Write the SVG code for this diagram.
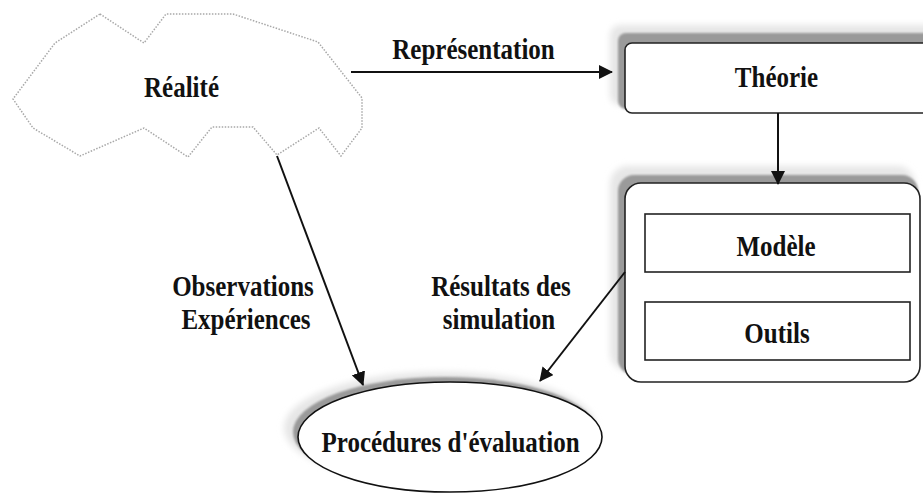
<svg xmlns="http://www.w3.org/2000/svg" width="923" height="495" viewBox="0 0 923 495">
  <style>
    .lbl { font-family: "Liberation Serif", "Times New Roman", serif; font-weight: bold; font-size: 25px; fill: #111; text-anchor: middle; }
    .box { fill: #fff; stroke: #222; stroke-width: 1.6; }
    .inner { fill: #fff; stroke: #222; stroke-width: 1.6; }
    .cloud { fill: #fff; stroke: #a8a8a8; stroke-width: 1.5; stroke-dasharray: 1.5 1.5; }
    .conn { stroke: #111; stroke-width: 2; fill: none; marker-end: url(#arrow); }
    .shadowDark { fill: #9a9a9a; filter: url(#soft); }
    .shadowLight { fill: #e6e6e6; filter: url(#glow); }
  </style>
  <defs>
    <marker id="arrow" markerUnits="userSpaceOnUse" markerWidth="14" markerHeight="14" refX="13" refY="7" orient="auto">
      <path d="M0,0 L14,7 L0,14 z" fill="#111"/>
    </marker>
    <filter id="soft" x="-10%" y="-10%" width="120%" height="120%">
      <feGaussianBlur stdDeviation="0.8"/>
    </filter>
    <filter id="glow" x="-10%" y="-10%" width="120%" height="120%">
      <feGaussianBlur stdDeviation="3"/>
    </filter>
  </defs>

  <rect width="923" height="495" fill="#fff"/>

  <!-- Réalité: dotted cloud outline -->
  <g id="realite">
    <polygon class="cloud" points="100,14 144,43 166,14 233,14 318,42 362,98 362,128 341,156 319,128 277,155 253,127 212,127 188,157 144,128 80,156 33,128 13,99 55,43"/>
    <text class="lbl" transform="translate(181.5,97) scale(1,1.2)">Réalité</text>
  </g>

  <!-- Théorie box -->
  <g id="theorie">
    <rect class="shadowLight" x="610" y="25" width="330" height="80" rx="10"/>
    <rect class="shadowDark" x="618" y="33" width="330" height="76" rx="8"/>
    <rect class="box" x="625" y="43" width="320" height="70" rx="7"/>
    <text class="lbl" transform="translate(776.5,87) scale(1,1.2)">Théorie</text>
  </g>

  <!-- Container holding Modèle and Outils -->
  <g id="modele-outils">
    <rect class="shadowLight" x="610" y="166" width="305" height="205" rx="18"/>
    <rect class="shadowDark" x="618" y="175" width="300" height="200" rx="16"/>
    <rect class="box" x="625" y="183" width="295" height="199" rx="16"/>
  </g>

  <g id="modele">
    <rect class="inner" x="645" y="214" width="265" height="58"/>
    <text class="lbl" transform="translate(776,256) scale(1,1.2)">Modèle</text>
  </g>

  <g id="outils">
    <rect class="inner" x="645" y="302" width="265" height="58"/>
    <text class="lbl" transform="translate(777,343) scale(1,1.2)">Outils</text>
  </g>

  <!-- Procédures d'évaluation ellipse -->
  <g id="evaluation">
    <ellipse class="shadowLight" cx="440" cy="428" rx="156" ry="56"/>
    <ellipse class="shadowDark" cx="445" cy="432" rx="152" ry="55"/>
    <ellipse cx="450" cy="437" rx="152" ry="55" fill="#fff" stroke="#111" stroke-width="1.6"/>
    <text class="lbl" transform="translate(450.5,452) scale(1,1.2)">Procédures d'évaluation</text>
  </g>

  <!-- Connectors -->
  <g id="connectors">
    <line class="conn" x1="351" y1="72" x2="612" y2="72"/>
    <line class="conn" x1="778" y1="113" x2="778" y2="184"/>
    <line class="conn" x1="277" y1="156" x2="363" y2="385"/>
    <line class="conn" x1="625" y1="272" x2="540" y2="381"/>
  </g>

  <!-- Connector labels -->
  <g id="labels">
    <text class="lbl" transform="translate(473.5,59) scale(1,1.2)">Représentation</text>
    <text class="lbl" transform="translate(243,296) scale(1,1.2)">Observations</text>
    <text class="lbl" transform="translate(246,329) scale(1,1.2)">Expériences</text>
    <text class="lbl" transform="translate(501,296) scale(1,1.2)">Résultats des</text>
    <text class="lbl" transform="translate(499,329) scale(1,1.2)">simulation</text>
  </g>
</svg>
